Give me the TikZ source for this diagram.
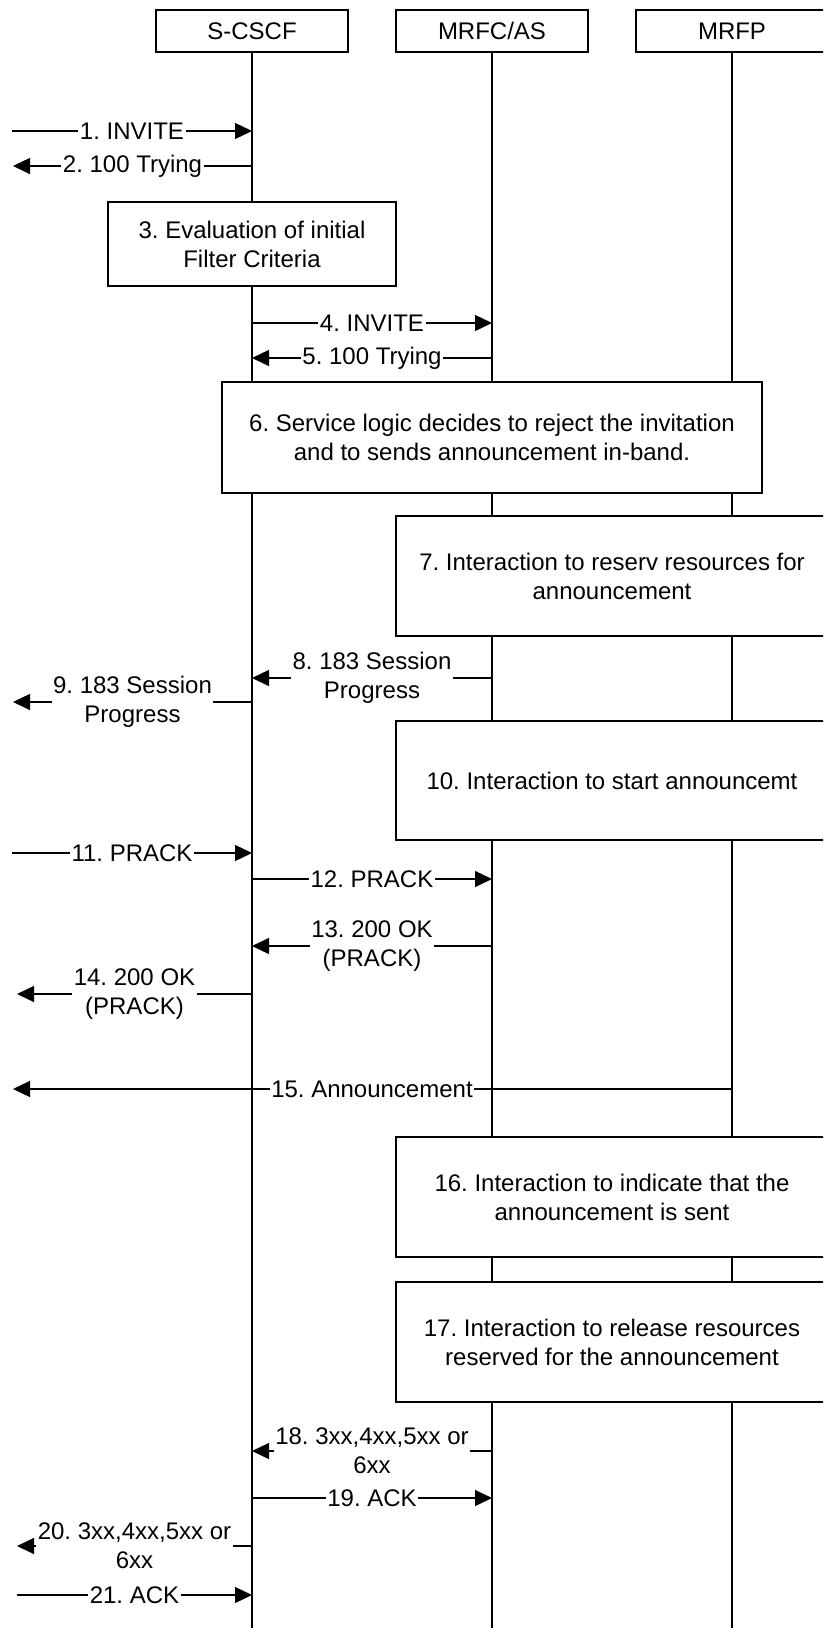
\documentclass[tikz,border=0pt]{standalone}
\usepackage{fontspec}
\setmainfont{Liberation Sans}
\usetikzlibrary{arrows.meta}
\frenchspacing
\begin{document}
\begin{tikzpicture}[x=1pt,y=-1pt,
  every node/.style={font=\fontsize{24}{29}\selectfont},
  head/.style={draw, line width=1.4pt, minimum width=192pt, minimum height=42pt, inner sep=0pt, fill=white},
  procbox/.style={draw, line width=1.4pt, fill=white, align=center, inner sep=0pt},
  life/.style={line width=1.3pt},
  msg/.style={line width=1.3pt, -{Triangle[length=17pt,width=16pt]}},
  lbl/.style={fill=white, inner sep=1.5pt, align=center}]
\useasboundingbox (0,0) rectangle (823,1628);
\clip (0,0) rectangle (823,1628);
\fill[white] (0,0) rectangle (823,1628);

% headers
\node[head] (hS) at (252,31) {S-CSCF};
\node[head] (hM) at (492,31) {MRFC/AS};
\node[head] (hP) at (732,31) {MRFP};
\coordinate (eS) at (252,1640);
\coordinate (eM) at (492,1640);
\coordinate (eP) at (732,1640);
\draw[life] (hS.south) -- (eS);
\draw[life] (hM.south) -- (eM);
\draw[life] (hP.south) -- (eP);

% process boxes
\node[procbox, minimum width=288pt, minimum height=84pt] (b3) at (252,244) {3. Evaluation of initial\\Filter Criteria};
\node[procbox, minimum width=540pt, minimum height=111pt] (b6) at (492,437.5) {6. Service logic decides to reject the invitation\\and to sends announcement in-band.};
\node[procbox, minimum width=432pt, minimum height=120pt] (b7) at (612,576) {7. Interaction to reserv resources for\\announcement};
\node[procbox, minimum width=432pt, minimum height=119pt] (b10) at (612,780.5) {10. Interaction to start announcemt};
\node[procbox, minimum width=432pt, minimum height=120pt] (b16) at (612,1197) {16. Interaction to indicate that the\\announcement is sent};
\node[procbox, minimum width=432pt, minimum height=120pt] (b17) at (612,1342) {17. Interaction to release resources\\reserved for the announcement};

% message end points
\coordinate (a1) at (12,131);   \coordinate (s1) at (252,131);
\coordinate (a2) at (13,166);   \coordinate (s2) at (252,166);
\coordinate (s4) at (252,323);  \coordinate (m4) at (492,323);
\coordinate (s5) at (252,358);  \coordinate (m5) at (492,358);
\coordinate (s8) at (252,678);  \coordinate (m8) at (492,678);
\coordinate (a9) at (13,702);   \coordinate (s9) at (252,702);
\coordinate (a11) at (12,853);  \coordinate (s11) at (252,853);
\coordinate (s12) at (252,879); \coordinate (m12) at (492,879);
\coordinate (s13) at (252,946); \coordinate (m13) at (492,946);
\coordinate (a14) at (17,994);  \coordinate (s14) at (252,994);
\coordinate (a15) at (13,1089); \coordinate (p15) at (732,1089);
\coordinate (s18) at (252,1451); \coordinate (m18) at (492,1451);
\coordinate (s19) at (252,1498); \coordinate (m19) at (492,1498);
\coordinate (a20) at (17,1546); \coordinate (s20) at (252,1546);
\coordinate (a21) at (17,1595); \coordinate (s21) at (252,1595);

% messages
\draw[msg] (a1) -- (s1) node[lbl, midway] (l1) {1. INVITE};
\draw[msg] (s2) -- (a2) node[lbl, midway] (l2) {2. 100 Trying};
\draw[msg] (s4) -- (m4) node[lbl, midway] (l4) {4. INVITE};
\draw[msg] (m5) -- (s5) node[lbl, midway] (l5) {5. 100 Trying};
\draw[msg] (m8) -- (s8) node[lbl, midway] (l8) {8. 183 Session\\Progress};
\draw[msg] (s9) -- (a9) node[lbl, midway] (l9) {9. 183 Session\\Progress};
\draw[msg] (a11) -- (s11) node[lbl, midway] (l11) {11. PRACK};
\draw[msg] (s12) -- (m12) node[lbl, midway] (l12) {12. PRACK};
\draw[msg] (m13) -- (s13) node[lbl, midway] (l13) {13. 200 OK\\(PRACK)};
\draw[msg] (s14) -- (a14) node[lbl, midway] (l14) {14. 200 OK\\(PRACK)};
\draw[msg] (p15) -- (a15);
\node[lbl] (l15) at (372,1089) {15. Announcement};
\draw[msg] (m18) -- (s18) node[lbl, midway] (l18) {18. 3xx,4xx,5xx or\\6xx};
\draw[msg] (s19) -- (m19) node[lbl, midway] (l19) {19. ACK};
\draw[msg] (s20) -- (a20) node[lbl, midway] (l20) {20. 3xx,4xx,5xx or\\6xx};
\draw[msg] (a21) -- (s21) node[lbl, midway] (l21) {21. ACK};
\end{tikzpicture}
\end{document}
